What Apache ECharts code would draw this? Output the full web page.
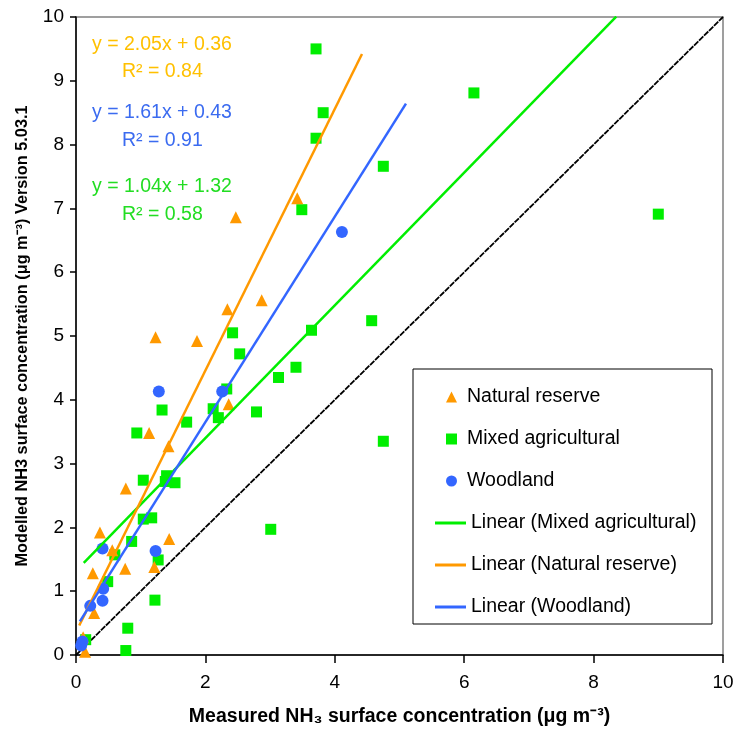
<!DOCTYPE html>
<html>
<head>
<meta charset="utf-8">
<script src="https://cdn.jsdelivr.net/npm/echarts@6/dist/echarts.min.js"></script>
<style>html,body{margin:0;padding:0;background:#fff}#c{width:737px;height:729px}</style>
</head>
<body>
<div id="c"></div>
<script>
// Measured (x) vs modelled (y) NH3
const naturalReserve = [[3.42,7.16],[2.47,6.86],[2.87,5.56],[2.34,5.42],[1.23,4.98],[1.87,4.92],[2.36,3.93],[1.13,3.48],[1.43,3.27],[0.77,2.61],[0.37,1.92],[1.44,1.82],[0.56,1.64],[0.26,1.28],[0.76,1.35],[1.21,1.38],[0.28,0.66],[0.11,0.28],[0.14,0.05]];
const mixedAgricultural = [[3.71,9.5],[3.82,8.5],[3.71,8.1],[6.15,8.81],[4.75,7.66],[9.0,6.91],[3.49,6.98],[3.64,5.09],[4.57,5.24],[2.42,5.05],[2.53,4.72],[3.40,4.51],[3.13,4.35],[2.33,4.17],[2.12,3.86],[2.79,3.81],[1.33,3.84],[2.20,3.72],[1.71,3.65],[0.94,3.48],[4.75,3.35],[1.04,2.74],[1.40,2.81],[1.53,2.70],[1.38,2.72],[1.04,2.13],[1.17,2.15],[0.86,1.78],[0.60,1.57],[1.27,1.49],[0.49,1.15],[3.01,1.97],[1.22,0.86],[0.80,0.42],[0.77,0.07],[0.15,0.24]];
const woodland = [[4.11,6.63],[1.28,4.13],[2.26,4.13],[0.41,1.67],[1.23,1.63],[0.42,1.04],[0.41,0.85],[0.22,0.77],[0.08,0.15],[0.10,0.21]];

// Trendline equations (slope, intercept) as printed, and x-extents of the drawn lines
const fitMixed = [1.04, 1.32];
const fitNatural = [2.05, 0.36];
const fitWoodland = [1.61, 0.43];
const fitMixedX = [0.12, 8.35];
const fitNaturalX = [0.05, 4.42];
const fitWoodlandX = [0.06, 5.10];
const oneToOne = [[0,0],[10,10]];

const eqNatural = ['y = 2.05x + 0.36', 'R\u00B2 = 0.84'];
const eqWoodland = ['y = 1.61x + 0.43', 'R\u00B2 = 0.91'];
const eqMixed = ['y = 1.04x + 1.32', 'R\u00B2 = 0.58'];

function fitLine(f, xs){ return xs.map(x => [x, f[0]*x + f[1]]); }

const C_OR = '#FF9900', C_GR = '#00EE00', C_BL = '#3366FF';
const C_OR_T = '#FFC000', C_GR_T = '#22DD22', C_BL_T = '#3B6BF0';
const FONT = 'Liberation Sans, Arial, sans-serif';
const NARROW = 'Liberation Sans Narrow, Liberation Sans, Arial, sans-serif';

const chart = echarts.init(document.getElementById('c'), null, {renderer:'canvas'});
function eqText(lines, color, y1, y2){
  return [
    {type:'text', x:92, y:y1, z:10, style:{text:lines[0], fill:color, font:'19.5px ' + FONT, verticalAlign:'middle'}},
    {type:'text', x:122, y:y2, z:10, style:{text:lines[1], fill:color, font:'19.5px ' + FONT, verticalAlign:'middle'}}
  ];
}
const lineIcon = 'rect';
const option = {
  animation:false,
  backgroundColor:'#fff',
  grid:{left:76, right:14, top:17, bottom:74, containLabel:false, outerBoundsMode:'none',
    show:true, borderColor:'#808080', borderWidth:1.5, backgroundColor:'transparent'},
  xAxis:{
    type:'value', min:0, max:10, interval:2,
    name:'Measured NH\u2083 surface concentration (\u03BCg m\u207B\u00B3)',
    nameLocation:'middle', nameGap:52,
    nameTextStyle:{fontFamily:NARROW, fontWeight:'bold', fontSize:19.5, color:'#000'},
    axisLine:{lineStyle:{color:'#000', width:1.5}},
    axisTick:{show:true, length:8, lineStyle:{color:'#000', width:1.5}},
    axisLabel:{fontFamily:NARROW, fontSize:19, color:'#000', margin:18},
    splitLine:{show:false}
  },
  yAxis:{
    type:'value', min:0, max:10, interval:1,
    name:'Modelled NH3 surface concentration (\u03BCg m\u207B\u00B3) Version 5.03.1',
    nameLocation:'middle', nameGap:45,
    nameTextStyle:{fontFamily:FONT, fontWeight:'bold', fontSize:16.3, color:'#000'},
    axisLine:{lineStyle:{color:'#000', width:1.5}},
    axisTick:{show:true, length:6, lineStyle:{color:'#000', width:1.5}},
    axisLabel:{fontFamily:NARROW, fontSize:19, color:'#000', margin:12},
    splitLine:{show:false}
  },
  legend:[
    {
      data:['Natural reserve','Mixed agricultural','Woodland'],
      orient:'vertical', left:441, top:382, itemGap:22, itemWidth:11, itemHeight:11,
      z:20,
      formatter: n => '{a|' + n + '}',
      textStyle:{color:'#000', fontFamily:FONT, fontSize:19.5, lineHeight:20,
        rich:{a:{padding:[0,0,0,5], fontFamily:FONT, fontSize:19.5, lineHeight:20, color:'#000'}}}
    },
    {
      data:[
        {name:'Linear (Mixed agricultural)', icon:lineIcon},
        {name:'Linear (Natural reserve)', icon:lineIcon},
        {name:'Linear (Woodland)', icon:lineIcon}
      ],
      orient:'vertical', left:430, top:508, itemGap:22, itemWidth:31, itemHeight:3,
      z:20,
      textStyle:{color:'#000', fontFamily:FONT, fontSize:19.5, lineHeight:20}
    }
  ],
  graphic:[
    {type:'rect', shape:{x:413, y:369, width:299, height:255}, z:15, style:{fill:'#fff', stroke:'#000', lineWidth:1}},
    ...eqText(eqNatural, C_OR_T, 45, 72),
    ...eqText(eqWoodland, C_BL_T, 113, 141),
    ...eqText(eqMixed, C_GR_T, 187, 215)
  ],
  series:[
    {name:'1:1', type:'line', data:oneToOne, symbol:'none', silent:true, z:1,
      lineStyle:{color:'#000', width:1.8, type:[6,1]}},
    {name:'Mixed agricultural', type:'scatter', data:mixedAgricultural, symbol:'rect', symbolSize:11, z:2,
      itemStyle:{color:C_GR, opacity:1}},
    {name:'Natural reserve', type:'scatter', data:naturalReserve, symbol:'triangle', symbolSize:12, z:3,
      itemStyle:{color:C_OR, opacity:1}},
    {name:'Woodland', type:'scatter', data:woodland, symbol:'circle', symbolSize:12, z:4,
      itemStyle:{color:C_BL, opacity:1}},
    {name:'Linear (Mixed agricultural)', type:'line', data:fitLine(fitMixed, fitMixedX), symbol:'none', z:5,
      lineStyle:{color:C_GR, width:2.5}, itemStyle:{color:C_GR}},
    {name:'Linear (Natural reserve)', type:'line', data:fitLine(fitNatural, fitNaturalX), symbol:'none', z:5,
      lineStyle:{color:C_OR, width:2.5}, itemStyle:{color:C_OR}},
    {name:'Linear (Woodland)', type:'line', data:fitLine(fitWoodland, fitWoodlandX), symbol:'none', z:5,
      lineStyle:{color:C_BL, width:2.5}, itemStyle:{color:C_BL}}
  ]
};
chart.setOption(option);
</script>
</body>
</html>
